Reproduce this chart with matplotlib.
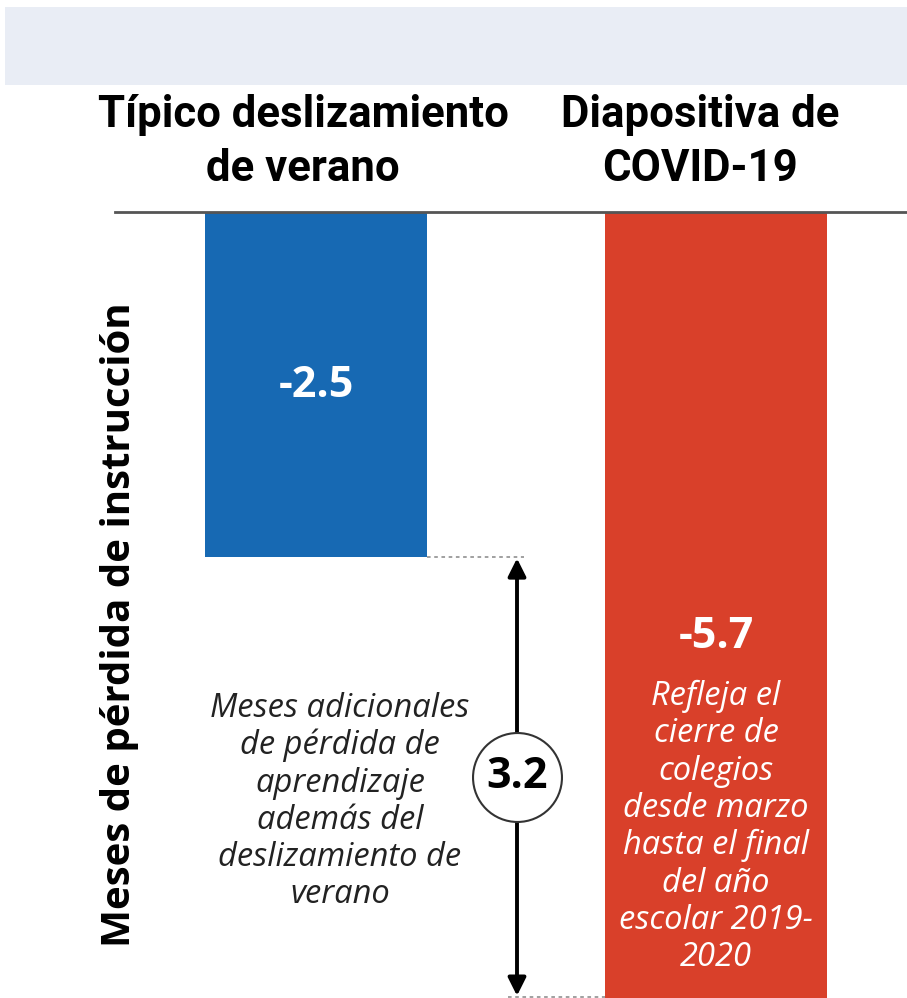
import matplotlib
matplotlib.use('Agg')
import matplotlib.pyplot as plt

# data
categories = ['Típico deslizamiento\nde verano', 'Diapositiva de\nCOVID-19']
values = [-2.5, -5.7]
colors = ['#1769b3', '#d9402a']
value_labels = ['-2.5', '-5.7']
gap = round(values[0] - values[1], 1)

note_red = 'Refleja el\ncierre de\ncolegios\ndesde marzo\nhasta el final\ndel año\nescolar 2019-\n2020'
note_black = 'Meses adicionales\nde pérdida de\naprendizaje\nademás del\ndeslizamiento de\nverano'
ylabel = 'Meses de pérdida de instrucción'

plt.rcParams['font.family'] = ['Open Sans', 'DejaVu Sans']

fig = plt.figure(figsize=(9.07, 9.98), dpi=100)
ax = fig.add_axes([0, 0, 1, 1])
ax.set_xlim(-0.79, 1.4775)
ax.set_ylim(-5.696, 1.536)
ax.axis('off')

# light band on top
ax.fill_between([-0.7775, 1.4775], 0.92, 1.486, color='#e9edf5', lw=0, zorder=0)

xs = [0, 1]
ax.bar(xs, values, width=0.555, color=colors, align='center', zorder=2)
ax.plot([-0.5025, 1.4775], [0, 0], color='#555555', lw=2, zorder=3)

# category headers
ax.text(-0.0325, 0.505, categories[0], ha='center', va='center', fontsize=31.5,
        fontweight='bold', linespacing=1.36, family=['Roboto', 'DejaVu Sans'])
ax.text(0.96, 0.505, categories[1], ha='center', va='center', fontsize=31.5,
        fontweight='bold', linespacing=1.36, family=['Roboto', 'DejaVu Sans'])

# bar values
ax.text(0, -1.254, value_labels[0], ha='center', va='center', color='white',
        fontsize=31, fontweight='bold')
ax.text(1, -3.08, value_labels[1], ha='center', va='center', color='white',
        fontsize=31, fontweight='bold')

ax.text(1, -4.457, note_red, ha='center', va='center', color='white',
        fontsize=23.5, style='italic', linespacing=1.17)
ax.text(0.06, -4.272, note_black, ha='center', va='center', color='#222222',
        fontsize=23.5, style='italic', linespacing=1.17)

# dotted guides
ax.plot([0.2775, 0.52], [values[0], values[0]], ls=(0, (2, 2)), color='#999999', lw=1.3, zorder=1)
ax.plot([0.48, 0.7225], [values[1] + 0.01, values[1] + 0.01], ls=(0, (2, 2)), color='#999999', lw=1.3, zorder=1)

# double arrow
ax.annotate('', xy=(0.5025, values[1] + 0.02), xytext=(0.5025, values[0] - 0.01),
            arrowprops=dict(arrowstyle='<|-|>', color='black', lw=2.8,
                            mutation_scale=27, shrinkA=0, shrinkB=0), zorder=4)
ax.scatter([0.5025], [-4.094], s=4100, facecolor='white', edgecolor='#333333',
           linewidth=1.5, zorder=5)
ax.text(0.5025, -4.094, f'{gap}', ha='center', va='center', fontsize=31,
        fontweight='bold', zorder=6)

ax.text(-0.49, -2.99, ylabel, rotation=90, ha='center', va='center',
        fontsize=29, fontweight='bold')

fig.savefig('out.png', dpi=100)
